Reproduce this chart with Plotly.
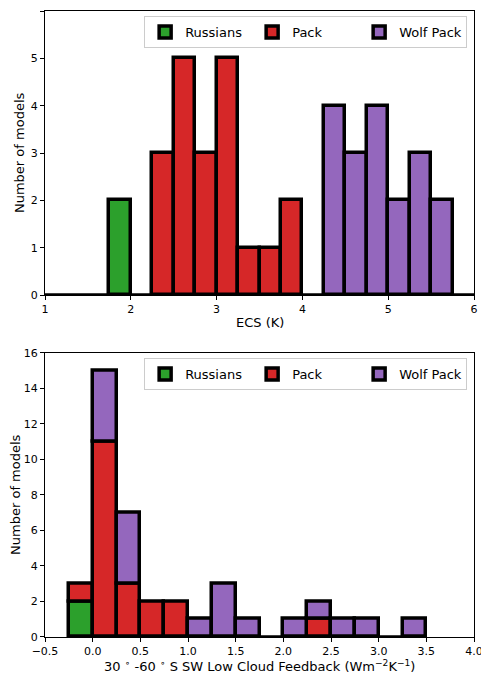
import plotly.graph_objects as go
from plotly.subplots import make_subplots

# ---- data ----
ecs_edges = [1.0 + 0.25 * i for i in range(21)]
ecs_russians = [0,0,0,2, 0,0,0,0, 0,0,0,0, 0,0,0,0, 0,0,0,0]
ecs_pack =     [0,0,0,0, 0,3,5,3, 5,1,1,2, 0,0,0,0, 0,0,0,0]
ecs_wolf =     [0,0,0,0, 0,0,0,0, 0,0,0,0, 0,4,3,4, 2,3,2,0]

fb_edges = [-0.25 + 0.25 * i for i in range(16)]
fb_russians = [2,0,0,0,0,0,0,0,0,0,0,0,0,0,0]
fb_pack =     [1,11,3,2,2,0,0,0,0,0,1,0,0,0,0]
fb_wolf =     [0,4,4,0,0,1,3,1,0,1,1,1,1,0,1]

names = ["Russians", "Pack", "Wolf Pack"]
colors = ["#2ca02c", "#d62728", "#9467bd"]

FONT = "DejaVu Sans"

fig = make_subplots(rows=2, cols=1, vertical_spacing=0.09)

def centers(edges):
    return [(edges[i] + edges[i + 1]) / 2 for i in range(len(edges) - 1)]

def widths(edges):
    return [edges[i + 1] - edges[i] for i in range(len(edges) - 1)]

# baselines (zero-height histogram outlines)
for edges, row in [(ecs_edges, 1), (fb_edges, 2)]:
    fig.add_trace(go.Scatter(x=[edges[0], edges[-1]], y=[0, 0], mode="lines",
                             line=dict(color="black", width=3.5), showlegend=False,
                             hoverinfo="skip"), row=row, col=1)

top_series = [ecs_russians, ecs_pack, ecs_wolf]
for name, col, vals in zip(names, colors, top_series):
    xs = [c for c, v in zip(centers(ecs_edges), vals) if v > 0]
    ys = [v for v in vals if v > 0]
    ws = [w for w, v in zip(widths(ecs_edges), vals) if v > 0]
    fig.add_trace(go.Bar(x=xs, y=ys, width=ws, name=name, marker=dict(color=col, line=dict(color="black", width=3.5)),
                         legend="legend", showlegend=True), row=1, col=1)

bot_series = [fb_russians, fb_pack, fb_wolf]
base = [0] * len(fb_russians)
for name, col, vals in zip(names, colors, bot_series):
    xs, ys, ws, bs = [], [], [], []
    for c, w, v, b in zip(centers(fb_edges), widths(fb_edges), vals, base):
        if v > 0:
            xs.append(c); ys.append(v); ws.append(w); bs.append(b)
    fig.add_trace(go.Bar(x=xs, y=ys, width=ws, base=bs, name=name,
                         marker=dict(color=col, line=dict(color="black", width=3.5)),
                         legend="legend2", showlegend=True), row=2, col=1)
    base = [b + v for b, v in zip(base, vals)]

axis_common = dict(showline=True, linecolor="black", linewidth=1, mirror=True, automargin=False,
                   ticks="outside", ticklen=4, tickcolor="black", showgrid=False, zeroline=False,
                   tickfont=dict(family=FONT, size=11, color="black"))

fig.update_xaxes(**axis_common)
fig.update_yaxes(**axis_common)

fig.update_xaxes(range=[1, 6], dtick=1, tick0=1, row=1, col=1)
fig.update_yaxes(range=[0, 6], dtick=1, row=1, col=1)
fig.update_xaxes(range=[-0.5, 4.0], dtick=0.5, tick0=-0.5, tickformat=".1f", row=2, col=1)
fig.update_yaxes(range=[0, 16], dtick=2, row=2, col=1)

TOP_DOM = [0.5463, 1.0]
BOT_DOM = [0.0, 0.454]
fig.update_layout(
    xaxis=dict(domain=[0, 1]), yaxis=dict(domain=TOP_DOM),
    xaxis2=dict(domain=[0, 1]), yaxis2=dict(domain=BOT_DOM),
)

tfont = dict(family=FONT, size=13, color="black")
titles = [
    dict(text="Number of models", x=0, y=sum(TOP_DOM) / 2, xshift=-26, textangle=-90),
    dict(text="Number of models", x=0, y=sum(BOT_DOM) / 2, xshift=-29, textangle=-90),
    dict(text="ECS (K)", x=0.5, y=TOP_DOM[0], yshift=-27, textangle=0),
    dict(text="30 <sup>∘</sup> -60 <sup>∘</sup> S SW Low Cloud Feedback (Wm<sup>−2</sup>K<sup>−1</sup>)",
         x=0.5, y=BOT_DOM[0], yshift=-29, textangle=0),
]
for t in titles:
    fig.add_annotation(xref="paper", yref="paper", showarrow=False, xanchor="center", yanchor="middle",
                       font=tfont, **t)

legend_common = dict(orientation="h", xanchor="right", yanchor="top",
                     bgcolor="rgba(255,255,255,0.8)", bordercolor="#cccccc", borderwidth=1,
                     entrywidth=62, entrywidthmode="pixels",
                     font=dict(family=FONT, size=13, color="black"), traceorder="normal")
fig.update_layout(
    legend=dict(x=0.984, y=0.992, **legend_common),
    legend2=dict(x=0.984, y=0.4457, **legend_common),
    barmode="overlay",
    bargap=0,
    width=481, height=672,
    margin=dict(l=37, r=15, t=3, b=43, autoexpand=False),
    plot_bgcolor="white", paper_bgcolor="white",
    font=dict(family=FONT, color="black"),
)

fig.write_html("out.html")
